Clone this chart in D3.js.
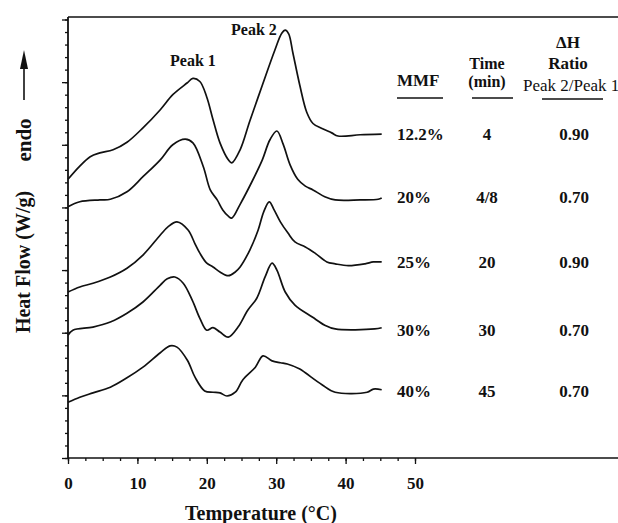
<!DOCTYPE html>
<html><head><meta charset="utf-8">
<script src="https://cdn.jsdelivr.net/npm/d3@7"></script>
<style>body{margin:0;background:#fff}svg{display:block}text{font-family:"Liberation Serif","Times New Roman",serif;fill:#111}</style>
</head><body>
<script>
// Data (temperature °C, heat flow in axis units; curves offset vertically as in original)
const mmfLabels = ["12.2%","20%","25%","30%","40%"];
const timeLabels = ["4","4/8","20","30","45"];
const ratioLabels = ["0.90","0.70","0.90","0.70","0.70"];
const xTicks = [0,10,20,30,40,50];

const t122 = [0,1.7,3.2,4.6,6.5,8.5,10.8,13.3,15.1,17.2,18.0,19.0,20.0,20.9,21.9,23.1,23.6,24.8,26.2,28.0,29.8,30.8,31.3,31.8,32.4,33.4,34.4,35.3,36.6,38.0,38.9,42.1,45.2];
const v122 = [4.45,4.66,4.81,4.87,4.92,5.04,5.27,5.56,5.80,5.99,6.06,6.01,5.76,5.40,5.03,4.76,4.71,4.92,5.38,5.95,6.51,6.78,6.83,6.77,6.47,5.95,5.52,5.34,5.26,5.19,5.14,5.16,5.17];

const t20 = [0,1.7,4.6,6.1,8.5,10.8,13.3,15.1,16.9,18.0,19.5,20.5,21.5,22.3,23.1,23.6,24.8,26.5,28.0,29.1,30.1,31.0,32.0,33.1,34.2,35.3,37.0,38.5,42.1,44.7,45.2];
const v20 = [4.01,4.09,4.12,4.13,4.25,4.49,4.76,5.00,5.09,5.03,4.65,4.28,4.12,3.96,3.86,3.83,4.05,4.41,4.76,5.08,5.22,5.01,4.68,4.45,4.34,4.28,4.17,4.12,4.12,4.13,4.15];

const t25 = [0,1.7,3.6,6.1,8.5,10.8,13.3,14.4,15.7,17.3,18.3,19.0,20.0,20.9,21.9,23.1,24.1,24.8,26.2,27.4,28.2,29.0,29.7,30.6,31.7,32.7,34.2,35.6,37.3,38.5,40.4,42.8,44.0,45.2];
const v25 = [2.65,2.73,2.79,2.89,3.03,3.24,3.56,3.69,3.77,3.64,3.42,3.27,3.11,3.05,2.97,2.91,2.97,3.05,3.32,3.64,3.93,4.09,3.96,3.77,3.59,3.45,3.37,3.27,3.13,3.10,3.07,3.10,3.13,3.13];

const t30 = [0,0.7,3.6,6.1,8.5,10.8,13.3,14.3,15.4,16.6,17.9,19.0,20.0,20.9,21.9,23.1,24.5,25.9,27.2,28.4,29.4,30.1,31.3,32.7,35.2,37.0,38.5,44.2,45.2];
const v30 = [1.96,2.04,2.09,2.17,2.31,2.49,2.76,2.86,2.89,2.79,2.52,2.23,2.04,2.08,2.01,1.93,2.09,2.36,2.55,2.89,3.11,3.00,2.65,2.44,2.25,2.12,2.06,2.06,2.08];

const t40 = [0,1.7,3.6,6.1,8.5,10.8,13.3,14.7,15.7,17.2,18.3,19.7,20.9,21.9,22.9,24.1,25.2,27.0,28.1,29.4,30.6,31.6,33.4,34.2,36.6,38.5,43.1,44.0,45.2];
const v40 = [0.89,0.97,1.04,1.13,1.28,1.45,1.68,1.79,1.77,1.56,1.29,1.07,1.05,1.04,0.99,1.05,1.25,1.45,1.63,1.55,1.52,1.50,1.42,1.36,1.17,1.05,1.05,1.10,1.09];

const curves = [[t122,v122],[t20,v20],[t25,v25],[t30,v30],[t40,v40]];

const W = 618, H = 523;
const svg = d3.select("body").append("svg").attr("width",W).attr("height",H);
const x = d3.scaleLinear().domain([0,50]).range([68,415]);
const y = d3.scaleLinear().domain([0,7.04]).range([458,17]);

// frame
svg.append("line").attr("x1",68).attr("x2",618).attr("y1",17).attr("y2",17).attr("stroke","#111").attr("stroke-width",1.5);
svg.append("line").attr("x1",68).attr("x2",618).attr("y1",458).attr("y2",458).attr("stroke","#111").attr("stroke-width",1.5);
svg.append("line").attr("x1",68).attr("x2",68).attr("y1",17).attr("y2",458).attr("stroke","#111").attr("stroke-width",1.8);

// x axis
const xMinor = d3.range(0,50.01,2.5);
const gx = svg.append("g").attr("transform","translate(0,458)");
gx.call(d3.axisBottom(x).tickValues(xMinor).tickSize(3).tickFormat(""));
gx.call(g=>g.select(".domain").remove());
const gx2 = svg.append("g").attr("transform","translate(0,458)");
gx2.call(d3.axisBottom(x).tickValues(xTicks).tickSize(6).tickPadding(13).tickFormat(d3.format("d")));
gx2.select(".domain").remove();
svg.selectAll("g line").attr("stroke","#111").attr("stroke-width",1.3);
gx2.selectAll("text").attr("font-size",17).attr("font-weight","bold").attr("font-family","Liberation Serif").attr("fill","#111");

// y axis
const gy = svg.append("g").attr("transform","translate(68,0)");
gy.call(d3.axisLeft(y).tickValues(d3.range(0,7.01,0.2)).tickSize(3).tickFormat(""));
gy.select(".domain").remove();
const gy2 = svg.append("g").attr("transform","translate(68,0)");
gy2.call(d3.axisLeft(y).tickValues(d3.range(0,8,1)).tickSize(6).tickFormat(""));
gy2.select(".domain").remove();
svg.selectAll("g line").attr("stroke","#111").attr("stroke-width",1.3);

// curves
const line = d3.line().x(d=>x(d[0])).y(d=>y(d[1])).curve(d3.curveCatmullRom.alpha(0.5));
curves.forEach(([ts,vs])=>{
  svg.append("path").datum(ts.map((t,i)=>[t,vs[i]])).attr("d",line)
    .attr("fill","none").attr("stroke","#111").attr("stroke-width",1.7);
});

// peak labels
svg.append("text").attr("x",170).attr("y",66).attr("font-size",16).attr("font-weight","bold").text("Peak 1");
svg.append("text").attr("x",231).attr("y",35).attr("font-size",16).attr("font-weight","bold").text("Peak 2");

// axis titles
svg.append("text").attr("x",261).attr("y",520).attr("text-anchor","middle").attr("font-size",20).attr("font-weight","bold").text("Temperature (°C)");
svg.append("text").attr("transform","translate(30,262) rotate(-90)").attr("text-anchor","middle").attr("font-size",20).attr("font-weight","bold").text("Heat Flow (W/g)");
svg.append("text").attr("transform","translate(31,140) rotate(-90)").attr("text-anchor","middle").attr("font-size",21).attr("font-weight","bold").text("endo");
svg.append("line").attr("x1",24).attr("x2",24).attr("y1",100).attr("y2",64).attr("stroke","#111").attr("stroke-width",1.6);
svg.append("path").attr("d","M24,50 L20,69 L28,69 Z").attr("fill","#111");

// table header
const hdr = (tx,ty,s,anchor,wt,fs)=>svg.append("text").attr("x",tx).attr("y",ty).attr("text-anchor",anchor||"start").attr("font-weight",wt||"bold").attr("font-size",fs||17).text(s);
hdr(397,86,"MMF");
hdr(487,69,"Time","middle","bold",16);
hdr(487,87,"(min)","middle","bold",16);
hdr(568,48,"ΔH","middle");
hdr(568,69,"Ratio","middle");
hdr(523,91,"Peak 2/Peak 1","start","normal",17);
[[397,443,98],[472,513,98],[542,603,99]].forEach(([a,b,yy])=>svg.append("line").attr("x1",a).attr("x2",b).attr("y1",yy).attr("y2",yy).attr("stroke","#111").attr("stroke-width",1.5));

// table rows: baseline aligned to each curve's right plateau
const rowY = [140,203,268,336,397];
mmfLabels.forEach((m,i)=>{
  hdr(397,rowY[i],m,"start","bold",17);
  hdr(487,rowY[i],timeLabels[i],"middle","bold",17);
  hdr(574,rowY[i],ratioLabels[i],"middle","bold",17);
});
</script>
</body></html>
